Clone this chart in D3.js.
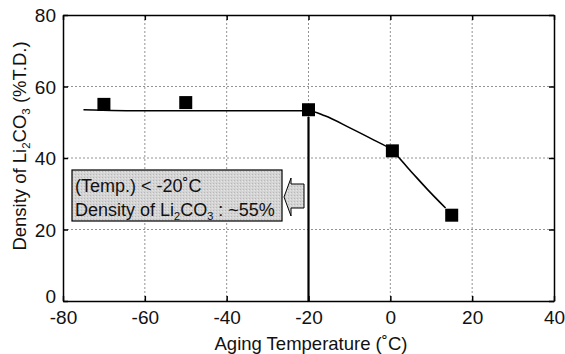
<!DOCTYPE html>
<html><head><meta charset="utf-8">
<script src="https://cdn.jsdelivr.net/npm/d3@7"></script>
<style>body{margin:0;background:#fff}svg{display:block}text{font-family:"Liberation Sans",Arial,sans-serif}</style>
</head><body>
<script>
const pointsX = [-70, -50, -20, 0.5, 15];
const pointsY = [55, 55.5, 53.5, 42, 24];
const curveX = [-75, -60, -40, -20, -16, -10, -4, 0, 5, 9, 13.5];
const curveY = [53.5, 53.2, 53.2, 53.2, 51.8, 48.5, 45, 42.5, 36.3, 31.3, 26];
const xTicks = [-80, -60, -40, -20, 0, 20, 40];
const yTicks = [0, 20, 40, 60, 80];
const vLineX = -20, vLineTop = 51.5;

const W = 565, H = 354;
const m = {l: 63, r: 11, t: 15, b: 53};
const svg = d3.select("body").append("svg").attr("width", W).attr("height", H);
const x = d3.scaleLinear().domain([-80, 40]).range([m.l, W - m.r]);
const y = d3.scaleLinear().domain([0, 80]).range([H - m.b, m.t]);
const fmt = d => String(d);

// grid
const g = svg.append("g");
g.selectAll(".gx").data(xTicks.slice(1, -1)).join("line")
  .attr("x1", d => x(d)).attr("x2", d => x(d)).attr("y1", y(0)).attr("y2", y(80))
  .attr("stroke", "#777").attr("stroke-width", 0.8).attr("stroke-dasharray", "2,2");
g.selectAll(".gy").data(yTicks.slice(1, -1)).join("line")
  .attr("y1", d => y(d)).attr("y2", d => y(d)).attr("x1", x(-80)).attr("x2", x(40))
  .attr("stroke", "#777").attr("stroke-width", 0.8).attr("stroke-dasharray", "2,2");

// axes
const ax = svg.append("g").attr("transform", `translate(0,${y(0)})`)
  .call(d3.axisBottom(x).tickValues(xTicks).tickFormat(fmt).tickSizeInner(-5).tickSizeOuter(0).tickPadding(10));
const ay = svg.append("g").attr("transform", `translate(${x(-80)},0)`)
  .call(d3.axisLeft(y).tickValues(yTicks).tickFormat(fmt).tickSizeInner(-5).tickSizeOuter(0).tickPadding(7));
const ar = svg.append("g").attr("transform", `translate(${x(40)},0)`)
  .call(d3.axisRight(y).tickValues(yTicks).tickSizeInner(-5).tickSizeOuter(0).tickFormat(""));
const at = svg.append("g").attr("transform", `translate(0,${y(80)})`)
  .call(d3.axisTop(x).tickValues(xTicks).tickSizeInner(-5).tickSizeOuter(0).tickFormat(""));
[ax, ay, ar, at].forEach(a => {
  a.selectAll("path").attr("stroke", "#000").attr("stroke-width", 1.5);
  a.selectAll("line").attr("stroke", "#000").attr("stroke-width", 1.5);
  a.selectAll("text").attr("font-size", 19).attr("fill", "#111").attr("font-family", "Liberation Sans, Arial, sans-serif");
});
ay.selectAll("text").attr("dy", d => d === 0 ? "0.1em" : "0.36em");

// curve
const line = d3.line().x((d, i) => x(curveX[i])).y((d, i) => y(curveY[i])).curve(d3.curveMonotoneX);
svg.append("path").datum(curveX).attr("d", line).attr("fill", "none").attr("stroke", "#000").attr("stroke-width", 1.6);

// vertical line
svg.append("line").attr("x1", x(vLineX)).attr("x2", x(vLineX)).attr("y1", y(vLineTop)).attr("y2", y(0))
  .attr("stroke", "#000").attr("stroke-width", 2.2);

// points
const s = 13;
svg.selectAll(".pt").data(pointsX).join("rect")
  .attr("x", (d) => x(d) - s / 2).attr("y", (d, i) => y(pointsY[i]) - s / 2)
  .attr("width", s).attr("height", s).attr("fill", "#000");

// annotation box
const defs = svg.append("defs");
const pat = defs.append("pattern").attr("id", "tex").attr("width", 3).attr("height", 3).attr("patternUnits", "userSpaceOnUse");
pat.append("rect").attr("width", 3).attr("height", 3).attr("fill", "#d4d4d4");
pat.append("rect").attr("width", 1).attr("height", 1).attr("fill", "#b8b8b8");
pat.append("rect").attr("x", 2).attr("y", 1).attr("width", 1).attr("height", 1).attr("fill", "#e6e6e6");

svg.append("rect").attr("x", 72).attr("y", 170).attr("width", 210).attr("height", 51)
  .attr("fill", "url(#tex)").attr("stroke", "#000").attr("stroke-width", 1.2);
const t1 = svg.append("text").attr("x", 75).attr("y", 192).attr("font-size", 18).attr("fill", "#111");
t1.append("tspan").text("(Temp.) < -20");
t1.append("tspan").text("˚");
t1.append("tspan").text("C");
const t2 = svg.append("text").attr("x", 75).attr("y", 216).attr("font-size", 18).attr("fill", "#111");
t2.append("tspan").text("Density of Li");
t2.append("tspan").text("2").attr("font-size", 11).attr("dy", 4);
t2.append("tspan").text("CO").attr("dy", -4);
t2.append("tspan").text("3").attr("font-size", 11).attr("dy", 4);
t2.append("tspan").text(" : ~55%").attr("dy", -4);

// arrow
svg.append("path")
  .attr("d", "M284,197 L291,178 L291,184 L304,184 L304,208 L291,208 L291,216 Z")
  .attr("fill", "url(#tex)").attr("stroke", "#000").attr("stroke-width", 1);

// axis titles
const xt = svg.append("text").attr("x", 311).attr("y", 350).attr("text-anchor", "middle").attr("font-size", 18.5).attr("fill", "#111");
xt.append("tspan").text("Aging Temperature (");
xt.append("tspan").text("˚");
xt.append("tspan").text("C)");

const yt = svg.append("text").attr("transform", `translate(26,146) rotate(-90)`).attr("text-anchor", "middle").attr("font-size", 18.5).attr("fill", "#111");
yt.append("tspan").text("Density of Li");
yt.append("tspan").text("2").attr("font-size", 11.5).attr("dy", 4);
yt.append("tspan").text("CO").attr("dy", -4);
yt.append("tspan").text("3").attr("font-size", 11.5).attr("dy", 4);
yt.append("tspan").text(" (%T.D.)").attr("dy", -4);
</script>
</body></html>
